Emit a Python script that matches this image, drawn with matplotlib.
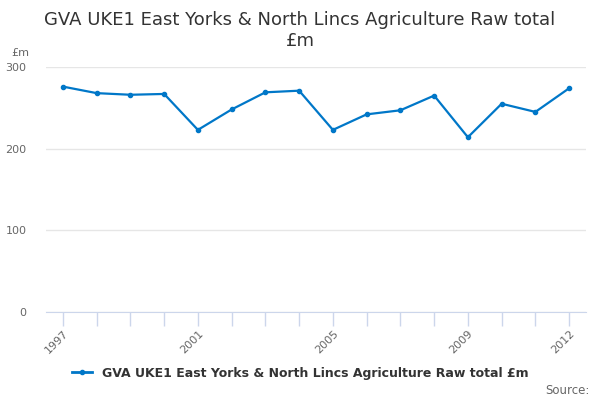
import matplotlib.pyplot as plt
from matplotlib.lines import Line2D

# data
years = ['1997', '1998', '1999', '2000', '2001', '2002', '2003', '2004',
         '2005', '2006', '2007', '2008', '2009', '2010', '2011', '2012']
values = [276, 268, 266, 267, 223, 248, 269, 271,
          223, 242, 247, 265, 214, 255, 245, 274]
shown_labels = ['1997', '2001', '2005', '2009', '2012']
yticks = [0, 100, 200, 300]

line_col = '#0077c8'
title = 'GVA UKE1 East Yorks & North Lincs Agriculture Raw total\n£m'
series_name = 'GVA UKE1 East Yorks & North Lincs Agriculture Raw total £m'

plt.rcParams['font.family'] = ['DejaVu Sans']
fig = plt.figure(figsize=(6, 4), dpi=100)
ax = fig.add_axes([0.0767, 0.22, 0.9, 0.6125])

xs = list(range(len(years)))
ax.plot(xs, values, color=line_col, linewidth=1.6, marker='o', markersize=3)

ax.set_xlim(-0.5, len(years) - 0.5)
ax.set_ylim(0, 300)
ax.set_yticks(yticks)
ax.set_yticklabels([str(v) for v in yticks], fontsize=8, color='#666666')
ax.grid(axis='y', color='#e6e6e6', linewidth=1)
ax.set_axisbelow(True)
ax.tick_params(axis='y', length=0, pad=14)

ax.set_xticks(xs)
ax.set_xticklabels([y if y in shown_labels else '' for y in years],
                   rotation=45, ha='right', rotation_mode='anchor',
                   fontsize=8, color='#666666')
ax.tick_params(axis='x', length=10, color='#ccd6eb', width=1, pad=2)

for s in ['top', 'right', 'left']:
    ax.spines[s].set_visible(False)
ax.spines['bottom'].set_color('#ccd6eb')

fig.text(0.033, 0.855, '£m', fontsize=8, color='#666666',
         ha='center', va='bottom')

fig.text(0.5, 0.875, title, ha='center', va='bottom', fontsize=13,
         color='#333333', linespacing=1.2)

handle = Line2D([], [], color=line_col, linewidth=2, marker='o', markersize=3)
fig.legend([handle], [series_name], loc='center', bbox_to_anchor=(0.5, 0.067),
           frameon=False, prop={'size': 9, 'weight': 'bold'}, handlelength=1.6,
           labelcolor='#333333')
fig.text(0.982, 0.025, 'Source:', ha='right', va='center', fontsize=8.5,
         color='#666666')

fig.savefig('out.png', dpi=100)
